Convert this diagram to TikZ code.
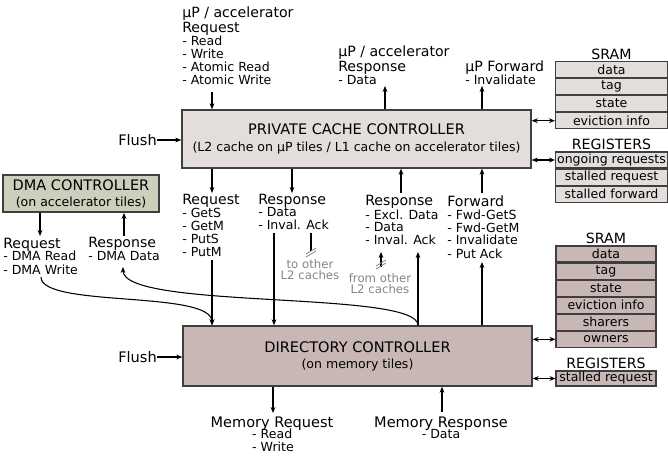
\documentclass[tikz,border=0pt]{standalone}
\usepackage{fontspec}
\setmainfont{DejaVu Sans}
\usetikzlibrary{arrows.meta, positioning, calc}

\definecolor{edge}{HTML}{3F3F3F}
\definecolor{cachefill}{HTML}{E3DEDB}
\definecolor{dmafill}{HTML}{CDCFBD}
\definecolor{dirfill}{HTML}{C8B7B5}
\definecolor{notegray}{HTML}{858585}

\newcommand{\hd}[1]{{\fontsize{10.6}{11}\selectfont #1}}
\newcommand{\titlefont}{\fontsize{10.9}{12}\selectfont}
\newcommand{\listfont}{\fontsize{9.4}{9.75}\selectfont}
\newcommand{\notefont}{\fontsize{8.8}{8.2}\selectfont}

\begin{document}
\begin{tikzpicture}[x=0.75pt, y=-0.75pt,
    >={Stealth[length=4.5pt, width=3.6pt]},
    ctrl/.style={rectangle, draw=edge, line width=1.1pt, align=center, font=\titlefont, minimum width=261.75pt},
    cell/.style={rectangle, draw=edge, line width=0.8pt, minimum height=12pt, inner sep=0pt, font=\listfont},
    lbl/.style={align=left, inner sep=0pt, anchor=base west, font=\listfont},
    note/.style={align=center, inner sep=0pt, text=notegray, font=\notefont},
    arr/.style={->, line width=0.8pt},
    biarr/.style={<->, line width=0.8pt},
    slash/.style={notegray, line width=0.6pt}
  ]
  \useasboundingbox (0,0) rectangle (668,456);

  % controllers
  \node[ctrl, fill=cachefill, minimum height=43.5pt] (pcc) at (356.5,139) {PRIVATE CACHE CONTROLLER\\[1pt] {\listfont (L2 cache on µP tiles / L1 cache on accelerator tiles)}};
  \node[ctrl, fill=dmafill, minimum width=117pt, minimum height=27.75pt] (dma) at (81,193.5) {DMA CONTROLLER\\ {\listfont (on accelerator tiles)}};
  \node[ctrl, fill=dirfill, minimum height=45pt] (dir) at (357.5,356) {DIRECTORY CONTROLLER\\ {\listfont (on memory tiles)}};

  % labels round the private cache (anchored at the last line)
  \node[lbl] (upreq) at (182,85) {\hd{µP / accelerator}\\[0.75pt] \hd{Request}\\ - Read\\ - Write\\ - Atomic Read\\ - Atomic Write};
  \node[lbl] (upresp) at (338,85) {\hd{µP / accelerator}\\[0.75pt] \hd{Response}\\ - Data};
  \node[lbl] (upfwd) at (465,85) {\hd{µP Forward}\\ - Invalidate};
  \node[lbl] (req) at (182,257) {\hd{Request}\\ - GetS\\ - GetM\\ - PutS\\ - PutM};
  \node[lbl] (resp) at (258,230) {\hd{Response}\\ - Data\\ - Inval. Ack};
  \node[lbl] (exresp) at (365,245) {\hd{Response}\\ - Excl. Data\\ - Data\\ - Inval. Ack};
  \node[lbl] (fwd) at (447,258) {\hd{Forward}\\ - Fwd-GetS\\ - Fwd-GetM\\ - Invalidate\\ - Put Ack};
  \node[lbl] (dmareq) at (3,274) {\hd{Request}\\ - DMA Read\\ - DMA Write};
  \node[lbl] (dmaresp) at (88,261) {\hd{Response}\\ - DMA Data};

  \node[inner sep=0pt, font=\titlefont, anchor=east] (flusha) at (157,140) {Flush};
  \node[inner sep=0pt, font=\titlefont, anchor=east] (flushb) at (157,357) {Flush};

  % memory side
  \node[inner sep=0pt, font=\titlefont, anchor=base] (memreq) at (272,427) {Memory Request};
  \node[lbl, anchor=north] (memreqi) at (273,429) {- Read\\ - Write};
  \node[inner sep=0pt, font=\titlefont, anchor=base] (memresp) at (441,427) {Memory Response};
  \node[lbl, anchor=north] (memrespi) at (441,429) {- Data};

  % notes
  \node[note] (tonote) at (310,270) {to other\\ L2 caches};
  \node[note] (fromnote) at (380,284) {from other\\ L2 caches};

  % SRAM and registers of the private cache
  \node[cell, fill=cachefill, minimum width=84pt] (sa1) at (611.5,69.5) {data};
  \node[cell, fill=cachefill, minimum width=84pt, below=0pt of sa1] (sa2) {tag};
  \node[cell, fill=cachefill, minimum width=84pt, below=0pt of sa2] (sa3) {state};
  \node[cell, fill=cachefill, minimum width=84pt, below=0pt of sa3] (sa4) {eviction info};
  \node[inner sep=1pt, above=0pt of sa1] (satitle) {\hd{SRAM}};
  \node[cell, fill=cachefill, minimum width=84pt] (ra1) at (611.5,160) {ongoing requests};
  \node[cell, fill=cachefill, minimum width=84pt, below=0pt of ra1] (ra2) {stalled request};
  \node[cell, fill=cachefill, minimum width=84pt, below=0pt of ra2] (ra3) {stalled forward};
  \node[inner sep=1pt, above=0pt of ra1] (ratitle) {\hd{REGISTERS}};

  % SRAM and registers of the directory
  \node[cell, fill=dirfill, minimum width=75pt] (sb1) at (606,254) {data};
  \node[cell, fill=dirfill, minimum width=75pt, below=0pt of sb1] (sb2) {tag};
  \node[cell, fill=dirfill, minimum width=75pt, below=0pt of sb2] (sb3) {state};
  \node[cell, fill=dirfill, minimum width=75pt, below=0pt of sb3] (sb4) {eviction info};
  \node[cell, fill=dirfill, minimum width=75pt, below=0pt of sb4] (sb5) {sharers};
  \node[cell, fill=dirfill, minimum width=75pt, below=0pt of sb5] (sb6) {owners};
  \node[inner sep=1pt, above=0pt of sb1] (sbtitle) {\hd{SRAM}};
  \node[cell, fill=dirfill, minimum width=75pt, minimum height=11.25pt] (rb1) at (606,378.5) {stalled request};
  \node[inner sep=1pt, above=0pt of rb1] (rbtitle) {\hd{REGISTERS}};

  % arrows of the private cache
  \draw[arr] (212,92) -- (212,0 |- pcc.north);
  \draw[arr] (385,0 |- pcc.north) -- (385,86);
  \draw[arr] (482,0 |- pcc.north) -- (482,86);
  \draw[arr] (flusha.east) -- (pcc.west |- flusha.east);
  \draw[biarr] (pcc.east |- sa4.west) -- (sa4.west);
  \draw[biarr] (pcc.east |- ra1.west) -- (ra1.west);
  \draw[arr] (212,0 |- pcc.south) -- (212,193);
  \draw[arr] (292,0 |- pcc.south) -- (292,193);
  \draw[arr] (401,193) -- (401,0 |- pcc.south);
  \draw[arr] (482,193) -- (482,0 |- pcc.south);

  % arrows of the directory
  \draw[arr] (212,260) -- (212,0 |- dir.north);
  \draw[arr] (274,233) -- (274,0 |- dir.north);
  \draw[arr] (418,0 |- dir.north) -- (418,252);
  \draw[arr] (482,0 |- dir.north) -- (482,262);
  \draw[arr] (flushb.east) -- (dir.west |- flushb.east);
  \draw[biarr] (dir.east |- sb6.west) -- (sb6.west);
  \draw[biarr] (dir.east |- rb1.west) -- (rb1.west);
  \draw[arr] (273,0 |- dir.south) -- (273,413);
  \draw[arr] (442,412) -- (442,0 |- dir.south);

  % DMA
  \draw[arr] (40,0 |- dma.south) -- (40,236);
  \draw[arr] (124,236) -- (124,0 |- dma.south);
  \draw[arr] (41,277) .. controls (41,308) and (212,290) .. (212,0 |- dir.north);
  \draw[arr] (418,0 |- dir.north) .. controls (418,290) and (123,310) .. (123,267);

  % other L2 caches
  \draw[line width=0.8pt] (311,233) -- (311,251);
  \draw[slash] (306,254) -- (316,248) (306,257) -- (316,251);
  \draw[arr] (381,267) -- (381,252);
  \draw[slash] (376,266) -- (386,260) (376,269) -- (386,263);
\end{tikzpicture}
\end{document}
